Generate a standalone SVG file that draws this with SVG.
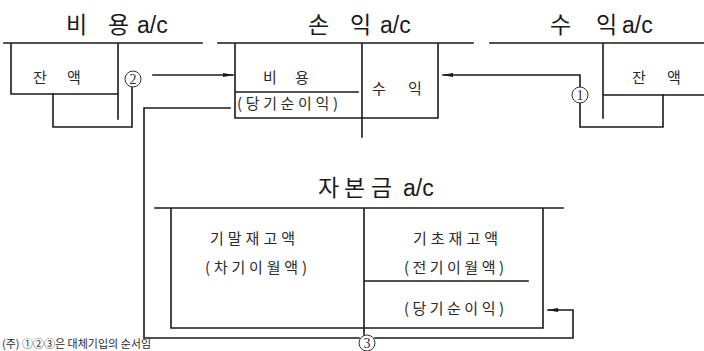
<svg xmlns="http://www.w3.org/2000/svg" width="704" height="351" viewBox="0 0 704 351">
<defs>
<style>
.ln{fill:none;stroke:#1a1a1a;stroke-width:1.6;stroke-linecap:square}
.tt{font-family:"Noto Sans CJK KR","Noto Sans",sans-serif;font-size:23px;fill:#1a1a1a}
.ac{font-family:"Liberation Sans",Arial,sans-serif;font-size:23px;fill:#1a1a1a}
.bd{font-family:"Noto Sans CJK KR","Noto Sans",sans-serif;font-size:15px;fill:#2a2a2a}
.cn{font-family:"Liberation Serif","Noto Sans CJK KR",serif;font-size:14px;fill:#2a2a2a;text-anchor:middle}
.cc{fill:#fff;stroke:#333;stroke-width:1}
</style>
<marker id="ah" markerWidth="11" markerHeight="6" refX="10" refY="3" orient="auto" markerUnits="userSpaceOnUse">
<path d="M0,1 L11,3 L0,5 Z" fill="#1a1a1a"/>
</marker>
</defs>
<rect width="704" height="351" fill="#fff"/>

<g id="expense-account">
<text class="tt" x="66" y="33">비</text><text class="tt" x="108" y="33">용</text><text class="ac" x="137" y="33">a/c</text>
<path class="ln" d="M4,43 H202 M11,43 V94 H118 M118,43 V119"/>
<text class="bd" x="33 50 67" y="83" xml:space="preserve">잔 액</text>
</g>

<g id="pl-account">
<text class="tt" x="308" y="33">손</text><text class="tt" x="350" y="33">익</text><text class="ac" x="380" y="33">a/c</text>
<path class="ln" d="M218,43 H473 M235,43 V118 H438 V43 M362,43 V137 M235,92 H358"/>
<text class="bd" x="263 281 295" y="83" xml:space="preserve">비 용</text>
<text class="bd" x="237" y="109" textLength="101" lengthAdjust="spacing">(당기순이익)</text>
<text class="bd" x="372 390 408" y="94" xml:space="preserve">수 익</text>
</g>

<g id="revenue-account">
<text class="tt" x="550" y="33">수</text><text class="tt" x="596" y="33">익</text><text class="ac" x="622" y="33">a/c</text>
<path class="ln" d="M490,43 H704 M603,43 V118 M603,95 H704"/>
<text class="bd" x="632 650 667" y="83" xml:space="preserve">잔 액</text>
</g>

<g id="capital-account">
<text class="tt" x="318" y="196">자</text><text class="tt" x="344" y="196">본</text><text class="tt" x="371" y="196">금</text><text class="ac" x="403" y="196">a/c</text>
<path class="ln" d="M155,208 H563 M171,208 V328 H543 V208 M364,208 V338 M364,281 H528"/>
<text class="bd" x="210" y="244" textLength="85" lengthAdjust="spacing">기말재고액</text>
<text class="bd" x="205" y="273" textLength="102" lengthAdjust="spacing">(차기이월액)</text>
<text class="bd" x="413" y="244" textLength="85" lengthAdjust="spacing">기초재고액</text>
<text class="bd" x="404" y="273" textLength="100" lengthAdjust="spacing">(전기이월액)</text>
<text class="bd" x="404" y="314" textLength="100" lengthAdjust="spacing">(당기순이익)</text>
</g>

<g id="connectors">
<path class="ln" d="M53,94 V127 H132 V87"/>
<path class="ln" d="M153,75 H233" marker-end="url(#ah)"/>
<path class="ln" d="M580,87 V75 H443" marker-end="url(#ah)"/>
<path class="ln" d="M580,103 V127 H663 V95"/>
<path class="ln" d="M230,108 H144 V338 H359 M375,338 H573 V310 H548" marker-end="url(#ah)"/>
<circle class="cc" cx="133" cy="79" r="8"/><text class="cn" x="133" y="84">2</text>
<circle class="cc" cx="580" cy="95" r="8"/><text class="cn" x="580" y="100">1</text>
<circle class="cc" cx="367" cy="343" r="8"/><text class="cn" x="367" y="348">3</text>
</g>

<text class="bd" x="2" y="348" style="font-size:11px">(주) ①②③은 대체기입의 순서임</text>
</svg>
